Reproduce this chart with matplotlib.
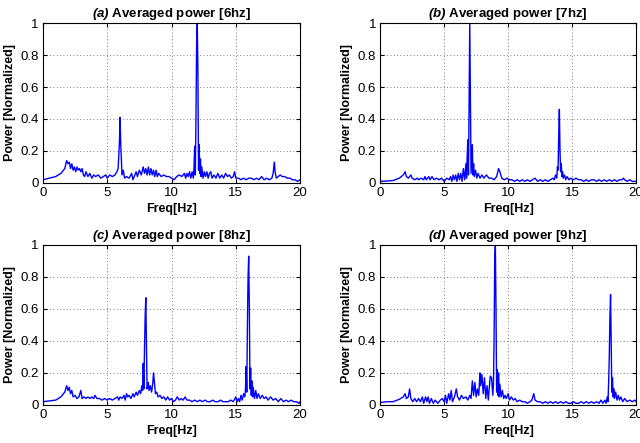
import matplotlib
matplotlib.use("Agg")
import matplotlib.pyplot as plt

plt.rcParams['font.family'] = ['Liberation Sans', 'DejaVu Sans']
plt.rcParams['mathtext.fontset'] = 'custom'
plt.rcParams['mathtext.bfit'] = 'Liberation Sans:italic:bold'
plt.rcParams['mathtext.it'] = 'Liberation Sans:italic'
plt.rcParams['mathtext.bf'] = 'Liberation Sans:bold'

# panel (a) 6 Hz stimulus
freq_a = [0, 0.5, 1.0, 1.4, 1.7, 1.85, 1.95, 2.05, 2.15, 2.25, 2.35, 2.45, 2.55, 2.65, 2.75, 2.85,
          2.95, 3.05, 3.15, 3.25, 3.35, 3.5, 3.65, 3.8, 3.95, 4.1, 4.3, 4.5, 4.7, 4.9, 5.0, 5.2,
          5.4, 5.6, 5.75, 5.85, 5.95, 6.0, 6.05, 6.15, 6.25, 6.35, 6.5, 6.7, 6.9, 7.0, 7.1, 7.25,
          7.35, 7.5, 7.65, 7.8, 7.9, 8.0, 8.1, 8.2, 8.3, 8.4, 8.5, 8.6, 8.7, 8.8, 8.9, 9.0, 9.2,
          9.4, 9.6, 9.8, 10.0, 10.2, 10.4, 10.6, 10.8, 11.0, 11.1, 11.2, 11.3, 11.4, 11.5, 11.6,
          11.7, 11.75, 11.8, 11.85, 11.9, 11.95, 12.0, 12.05, 12.1, 12.15, 12.2, 12.25, 12.3,
          12.35, 12.45, 12.55, 12.65, 12.75, 12.85, 12.95, 13.05, 13.15, 13.3, 13.45, 13.6, 13.75,
          13.9, 14.05, 14.2, 14.35, 14.5, 14.65, 14.8, 14.9, 15.0, 15.2, 15.4, 15.6, 15.8, 16.0,
          16.2, 16.4, 16.6, 16.8, 17.0, 17.2, 17.4, 17.6, 17.8, 17.9, 17.95, 18.0, 18.05, 18.15,
          18.3, 18.45, 18.6, 18.8, 19.0, 19.2, 19.4, 19.6, 19.8, 20.0]
pow_a = [0.02, 0.03, 0.04, 0.06, 0.09, 0.14, 0.12, 0.13, 0.09, 0.12, 0.08, 0.10, 0.07, 0.10, 0.08, 0.09,
         0.07, 0.09, 0.05, 0.04, 0.07, 0.04, 0.06, 0.03, 0.05, 0.04, 0.05, 0.03, 0.04, 0.05, 0.03, 0.05,
         0.04, 0.05, 0.07, 0.09, 0.25, 0.41, 0.25, 0.05, 0.08, 0.03, 0.04, 0.03, 0.06, 0.02, 0.04, 0.07,
         0.04, 0.08, 0.05, 0.10, 0.06, 0.09, 0.05, 0.10, 0.05, 0.09, 0.05, 0.08, 0.04, 0.08, 0.04, 0.06, 0.04,
         0.05, 0.04, 0.04, 0.03, 0.02, 0.04, 0.05, 0.04, 0.06, 0.03, 0.06, 0.04, 0.07, 0.03, 0.07,
         0.03, 0.10, 0.23, 0.05, 0.40, 0.85, 1.00, 0.70, 0.08, 0.24, 0.06, 0.15, 0.04,
         0.10, 0.03, 0.07, 0.04, 0.07, 0.03, 0.06, 0.07, 0.03, 0.05, 0.03, 0.06, 0.03,
         0.05, 0.03, 0.06, 0.04, 0.05, 0.03, 0.04, 0.07, 0.03, 0.03, 0.02, 0.03, 0.02, 0.03,
         0.03, 0.02, 0.03, 0.02, 0.04, 0.02, 0.03, 0.02, 0.03, 0.06, 0.10, 0.13, 0.07, 0.03,
         0.04, 0.05, 0.04, 0.04, 0.03, 0.03, 0.02, 0.02, 0.01, 0.02]

# panel (b) 7 Hz stimulus
freq_b = [0, 0.5, 1.0, 1.5, 1.8, 1.95, 2.05, 2.2, 2.4, 2.5, 2.7, 2.9, 3.0, 3.2, 3.4, 3.5, 3.6, 3.8,
          3.9, 4.05, 4.2, 4.4, 4.6, 4.8, 5.0, 5.2, 5.4, 5.5, 5.6, 5.7, 5.8, 5.9, 6.0, 6.1, 6.2, 6.3,
          6.4, 6.5, 6.6, 6.7, 6.75, 6.8, 6.85, 6.9, 6.95, 7.0, 7.05, 7.1, 7.15, 7.2, 7.25, 7.3, 7.35,
          7.45, 7.55, 7.65, 7.8, 7.95, 8.1, 8.3, 8.5, 8.7, 8.9, 9.1, 9.25, 9.35, 9.5, 9.7, 9.9, 10.1,
          10.3, 10.5, 10.7, 10.9, 11.1, 11.3, 11.5, 11.7, 11.9, 12.1, 12.3, 12.5, 12.7, 12.9, 13.1,
          13.3, 13.5, 13.6, 13.7, 13.8, 13.85, 13.9, 13.95, 14.0, 14.05, 14.1, 14.15, 14.2, 14.25,
          14.3, 14.4, 14.5, 14.6, 14.75, 14.9, 15.1, 15.3, 15.5, 15.7, 15.9, 16.1, 16.3, 16.5, 16.7,
          16.9, 17.1, 17.3, 17.5, 17.7, 17.9, 18.1, 18.3, 18.5, 18.7, 18.9, 19.0, 19.1, 19.3, 19.5,
          19.7, 20.0]
pow_b = [0.01, 0.012, 0.015, 0.03, 0.05, 0.07, 0.04, 0.03, 0.05, 0.03, 0.02, 0.03, 0.02, 0.03, 0.02, 0.04, 0.02, 0.04,
         0.02, 0.04, 0.02, 0.03, 0.02, 0.03, 0.01, 0.03, 0.02, 0.04, 0.01, 0.05, 0.02, 0.05, 0.01, 0.06, 0.02, 0.06,
         0.01, 0.09, 0.02, 0.12, 0.03, 0.17, 0.27, 0.05, 0.55, 1.00, 0.50, 0.06, 0.15, 0.24, 0.05, 0.12, 0.04,
         0.08, 0.03, 0.06, 0.03, 0.05, 0.03, 0.05, 0.03, 0.03, 0.02, 0.04, 0.09, 0.07, 0.03, 0.02, 0.03, 0.02,
         0.02, 0.01, 0.02, 0.01, 0.02, 0.01, 0.02, 0.01, 0.02, 0.03, 0.01, 0.02, 0.01, 0.02, 0.01,
         0.02, 0.03, 0.02, 0.05, 0.03, 0.10, 0.08, 0.30, 0.46, 0.20, 0.07, 0.12, 0.04, 0.07,
         0.03, 0.05, 0.02, 0.04, 0.02, 0.03, 0.02, 0.03, 0.02, 0.02, 0.01, 0.02, 0.01, 0.02, 0.02,
         0.01, 0.02, 0.01, 0.02, 0.01, 0.02, 0.01, 0.02, 0.01, 0.02, 0.02, 0.03, 0.02, 0.01, 0.02,
         0.01, 0.01]

# panel (c) 8 Hz stimulus
freq_c = [0, 0.5, 1.0, 1.4, 1.7, 1.85, 1.95, 2.05, 2.15, 2.25, 2.35, 2.5, 2.65, 2.8, 2.95, 3.05, 3.2,
          3.35, 3.5, 3.65, 3.8, 3.95, 4.05, 4.2, 4.4, 4.6, 4.8, 5.0, 5.2, 5.4, 5.6, 5.8, 5.9, 6.0, 6.15,
          6.3, 6.4, 6.5, 6.6, 6.7, 6.85, 7.0, 7.1, 7.25, 7.35, 7.5, 7.6, 7.7, 7.75, 7.8, 7.85, 7.9, 7.95,
          8.0, 8.05, 8.1, 8.2, 8.25, 8.35, 8.45, 8.55, 8.6, 8.65, 8.75, 8.85, 8.95, 9.1, 9.25, 9.4, 9.55,
          9.7, 9.85, 10.0, 10.15, 10.3, 10.45, 10.6, 10.75, 10.9, 11.05, 11.2, 11.4, 11.6, 11.8, 12.0,
          12.2, 12.4, 12.6, 12.8, 13.0, 13.2, 13.4, 13.6, 13.8, 14.0, 14.2, 14.4, 14.6, 14.8, 15.0,
          15.1, 15.2, 15.3, 15.4, 15.5, 15.6, 15.7, 15.75, 15.8, 15.85, 15.9, 15.95, 16.0, 16.05, 16.1,
          16.15, 16.2, 16.25, 16.3, 16.35, 16.45, 16.55, 16.65, 16.75, 16.9, 17.05, 17.2, 17.35, 17.5,
          17.7, 17.9, 18.1, 18.3, 18.5, 18.7, 18.9, 19.1, 19.3, 19.5, 19.7, 19.9, 20.0]
pow_c = [0.02, 0.025, 0.03, 0.05, 0.08, 0.12, 0.09, 0.11, 0.07, 0.09, 0.05, 0.06, 0.04, 0.05, 0.09, 0.04, 0.05,
         0.04, 0.05, 0.04, 0.05, 0.04, 0.06, 0.04, 0.04, 0.03, 0.04, 0.03, 0.04, 0.03, 0.04, 0.05, 0.03, 0.05, 0.04,
         0.06, 0.03, 0.07, 0.05, 0.06, 0.04, 0.07, 0.05, 0.08, 0.06, 0.09, 0.07, 0.12, 0.09, 0.26, 0.10, 0.35, 0.55,
         0.67, 0.40, 0.10, 0.14, 0.09, 0.12, 0.08, 0.14, 0.20, 0.16, 0.07, 0.08, 0.05, 0.06, 0.04, 0.05, 0.03,
         0.05, 0.03, 0.04, 0.02, 0.03, 0.05, 0.03, 0.04, 0.03, 0.05, 0.03, 0.03, 0.02, 0.03, 0.02,
         0.03, 0.02, 0.03, 0.02, 0.02, 0.03, 0.02, 0.02, 0.03, 0.02, 0.02, 0.02, 0.03, 0.02, 0.05,
         0.02, 0.04, 0.02, 0.06, 0.03, 0.07, 0.05, 0.10, 0.24, 0.08, 0.50, 0.80, 0.93, 0.60, 0.10,
         0.23, 0.06, 0.15, 0.05, 0.11, 0.04, 0.09, 0.04, 0.07, 0.04, 0.06, 0.04, 0.05, 0.03,
         0.05, 0.03, 0.04, 0.02, 0.04, 0.02, 0.03, 0.02, 0.03, 0.02, 0.02, 0.01, 0.02]

# panel (d) 9 Hz stimulus
freq_d = [0, 0.5, 1.0, 1.5, 1.8, 1.95, 2.05, 2.2, 2.3, 2.4, 2.55, 2.7, 2.85, 3.0, 3.15, 3.3, 3.4, 3.55,
          3.65, 3.75, 3.85, 4.0, 4.15, 4.3, 4.5, 4.7, 4.85, 5.0, 5.1, 5.2, 5.35, 5.45, 5.55, 5.65, 5.8,
          5.95, 6.05, 6.2, 6.35, 6.5, 6.7, 6.85, 7.0, 7.1, 7.2, 7.3, 7.4, 7.5, 7.6, 7.7, 7.8, 7.85, 7.95,
          8.05, 8.15, 8.25, 8.35, 8.45, 8.6, 8.7, 8.8, 8.85, 8.9, 8.95, 9.0, 9.05, 9.1, 9.15, 9.2, 9.25,
          9.3, 9.35, 9.45, 9.55, 9.65, 9.75, 9.85, 10.0, 10.1, 10.25, 10.4, 10.55, 10.7, 10.9, 11.1,
          11.3, 11.5, 11.7, 11.85, 12.0, 12.1, 12.3, 12.5, 12.7, 12.9, 13.1, 13.3, 13.5, 13.7, 13.9,
          14.1, 14.3, 14.5, 14.7, 14.9, 15.1, 15.3, 15.5, 15.7, 15.9, 16.1, 16.3, 16.5, 16.7, 16.9,
          17.1, 17.25, 17.4, 17.55, 17.65, 17.75, 17.8, 17.85, 17.9, 17.95, 18.0, 18.05, 18.1, 18.15,
          18.2, 18.25, 18.3, 18.4, 18.5, 18.6, 18.7, 18.8, 18.95, 19.1, 19.3, 19.5, 19.7, 19.9, 20.0]
pow_d = [0.015, 0.02, 0.02, 0.035, 0.05, 0.07, 0.04, 0.05, 0.10, 0.04, 0.02, 0.04, 0.02, 0.04, 0.02, 0.05, 0.01, 0.05,
         0.02, 0.05, 0.01, 0.04, 0.01, 0.03, 0.01, 0.03, 0.04, 0.02, 0.06, 0.01, 0.07, 0.03, 0.09, 0.02, 0.05,
         0.10, 0.05, 0.03, 0.06, 0.04, 0.05, 0.03, 0.06, 0.04, 0.15, 0.06, 0.14, 0.05, 0.10, 0.06, 0.20, 0.12, 0.19,
         0.07, 0.17, 0.04, 0.12, 0.03, 0.18, 0.17, 0.06, 0.13, 0.40, 0.90, 1.00, 0.60, 0.08, 0.22, 0.06, 0.20,
         0.05, 0.13, 0.05, 0.09, 0.04, 0.06, 0.04, 0.07, 0.03, 0.05, 0.03, 0.04, 0.02, 0.03, 0.02,
         0.02, 0.01, 0.02, 0.03, 0.07, 0.03, 0.02, 0.02, 0.01, 0.02, 0.01, 0.02, 0.01, 0.02, 0.01,
         0.02, 0.01, 0.02, 0.01, 0.01, 0.02, 0.01, 0.01, 0.02, 0.01, 0.02, 0.01, 0.02, 0.01, 0.02,
         0.01, 0.03, 0.01, 0.03, 0.01, 0.05, 0.02, 0.14, 0.30, 0.55, 0.69, 0.40, 0.08, 0.17,
         0.05, 0.10, 0.04, 0.08, 0.03, 0.06, 0.03, 0.05, 0.02, 0.04, 0.02, 0.03, 0.02, 0.03, 0.02]

panel_tags = ['(a)', '(b)', '(c)', '(d)']
panel_titles = ['Averaged power [6hz]', 'Averaged power [7hz]',
                'Averaged power [8hz]', 'Averaged power [9hz]']
series = [(freq_a, pow_a), (freq_b, pow_b), (freq_c, pow_c), (freq_d, pow_d)]

# axes rectangles (left, bottom, width, height) in figure fraction
rects = [
    [0.067, 0.587, 0.402, 0.361],
    [0.594, 0.587, 0.400, 0.361],
    [0.067, 0.086, 0.402, 0.361],
    [0.594, 0.086, 0.400, 0.361],
]

fig = plt.figure(figsize=(6.4, 4.43), dpi=100)

for rect, (fx, py), tag, title in zip(rects, series, panel_tags, panel_titles):
    ax = fig.add_axes(rect)
    ax.plot(fx, py, color=(0, 0, 1), linewidth=1.0)
    ax.set_xlim(0, 20)
    ax.set_ylim(0, 1)
    ax.set_xticks([0, 5, 10, 15, 20])
    ax.set_yticks([0, 0.2, 0.4, 0.6, 0.8, 1])
    ax.set_yticklabels(['0', '0.2', '0.4', '0.6', '0.8', '1'])
    ax.grid(True, linestyle=(0, (1, 3)), color='#555555', linewidth=0.6)
    ax.tick_params(direction='in', length=3, labelsize=9.5, top=True, right=True, pad=3)
    for sp in ax.spines.values():
        sp.set_linewidth(0.8)
    ax.set_title(r'$\mathbfit{' + tag + '}$ ' + title, fontsize=9.5, fontweight='bold', pad=4)
    ax.set_xlabel('Freq[Hz]', fontsize=9, fontweight='bold', labelpad=3)
    ax.set_ylabel('Power [Normalized]', fontsize=9, fontweight='bold', labelpad=3)

fig.savefig('out.png', dpi=100)
